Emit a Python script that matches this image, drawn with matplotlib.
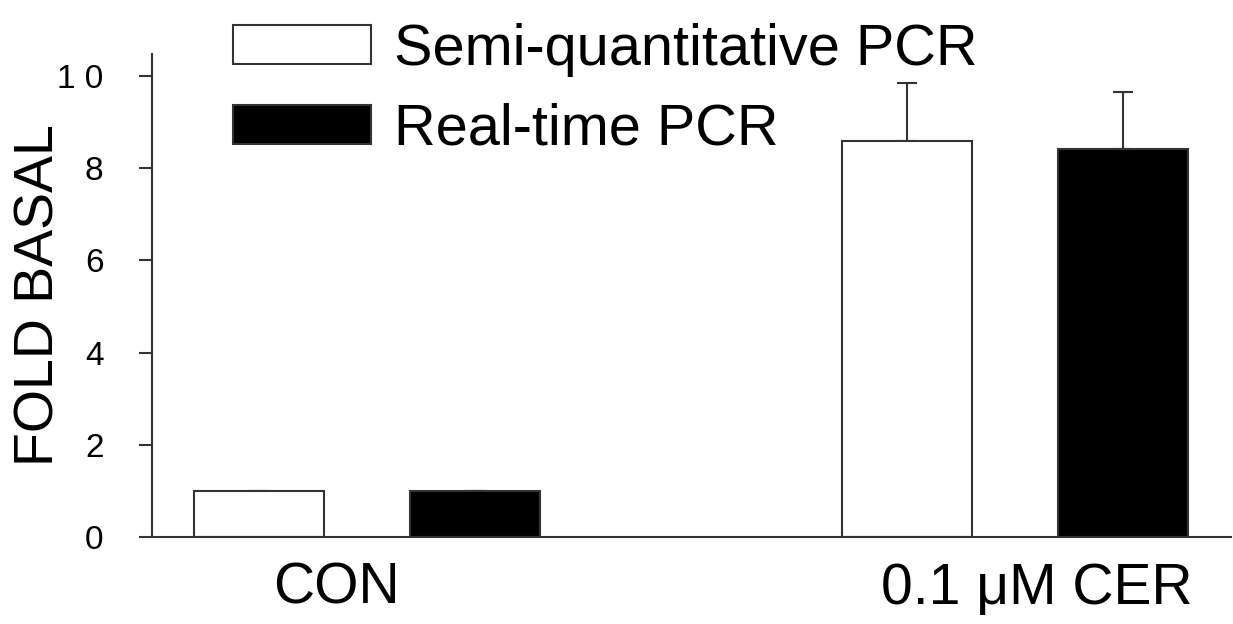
import matplotlib
matplotlib.use("Agg")
import matplotlib.pyplot as plt
import matplotlib.transforms as mtransforms
import numpy as np

plt.rcParams['font.family'] = ['Liberation Sans', 'DejaVu Sans']

groups = ["CON", "0.1 \u03bcM CER"]
series = ["Semi-quantitative PCR", "Real-time PCR"]
semi_vals = [1.0, 8.60]
semi_err = [0.0, 1.24]
real_vals = [1.0, 8.42]
real_err = [0.0, 1.24]
yticks = [0, 2, 4, 6, 8, 10]
ytick_labels = ["0", "2", "4", "6", "8", "1 0"]

fig = plt.figure(figsize=(12.33, 6.24), dpi=100)
ax = fig.add_axes([152/1233, (624-537)/624, (1231-152)/1233, (537-54)/624])

x = np.arange(len(groups))
off = 0.1674
w = 0.2006
edge = '#333333'
ax.bar(x - off, semi_vals, w, color='white', edgecolor=edge, linewidth=1.5,
       label=series[0], zorder=2)
ax.bar(x + off, real_vals, w, color='black', edgecolor=edge, linewidth=1.5,
       label=series[1], zorder=2)
ax.errorbar(x - off, semi_vals, yerr=[np.zeros(2), semi_err], fmt='none',
            ecolor=edge, elinewidth=1.5, capsize=7.5, capthick=1.5, zorder=1)
ax.errorbar(x + off, real_vals, yerr=[np.zeros(2), real_err], fmt='none',
            ecolor=edge, elinewidth=1.5, capsize=7.5, capthick=1.5, zorder=1)

ax.set_xlim(-0.3318, 1.3333)
ax.set_ylim(0, 10.48)
ax.spines['top'].set_visible(False)
ax.spines['right'].set_visible(False)
for s in ['left', 'bottom']:
    ax.spines[s].set_linewidth(1.5)
    ax.spines[s].set_color(edge)

ax.set_yticks(yticks)
ax.set_yticklabels(ytick_labels)
ax.tick_params(axis='y', direction='out', length=9.4, width=1.5, color=edge,
               pad=25.5, labelsize=24)
ax.set_xticks(x)
ax.set_xticklabels(groups)
ax.tick_params(axis='x', length=0, pad=18, labelsize=41)
shifts = [-30.5, 22]
for lab, s in zip(ax.get_xticklabels(), shifts):
    lab.set_transform(lab.get_transform() +
                      mtransforms.ScaledTranslation(s/100, 0, fig.dpi_scale_trans))

ax.set_ylabel("FOLD BASAL", fontsize=40)
ax.yaxis.set_label_coords(-0.08, 0.5)

ax.legend(loc='upper left', bbox_to_anchor=(233/1233, 1 - 23/624),
          bbox_transform=fig.transFigure, frameon=False, fontsize=41.5,
          handlelength=2.39, handleheight=0.66, handletextpad=0.41,
          labelspacing=0.45, borderpad=0, borderaxespad=0)

fig.savefig("out.png", dpi=100)
